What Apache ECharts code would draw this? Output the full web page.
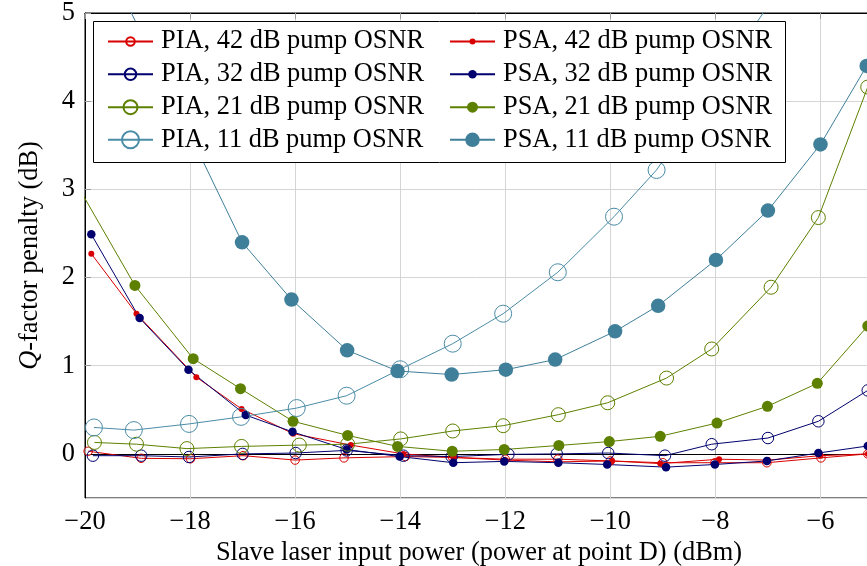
<!DOCTYPE html>
<html>
<head>
<meta charset="utf-8">
<script src="https://cdn.jsdelivr.net/npm/echarts@6/dist/echarts.min.js"></script>
<style>html,body{margin:0;padding:0;background:#fff}#c{width:867px;height:566px}</style>
</head>
<body>
<div id="c"></div>
<script>
// x tick labels (dBm) and y tick labels (dB)
const xTicks = [-20, -18, -16, -14, -12, -10, -8, -6];
const yTicks = [0, 1, 2, 3, 4, 5];
const seriesNames = [
  'PIA, 42 dB pump OSNR', 'PSA, 42 dB pump OSNR',
  'PIA, 32 dB pump OSNR', 'PSA, 32 dB pump OSNR',
  'PIA, 21 dB pump OSNR', 'PSA, 21 dB pump OSNR',
  'PIA, 11 dB pump OSNR', 'PSA, 11 dB pump OSNR'
];
// [slave laser input power (dBm), Q-factor penalty (dB)]
const pia42 = [[-19.94,0.03],[-18.93,-0.05],[-17.99,-0.055],[-16.99,-0.02],[-16.0,-0.07],[-15.07,-0.045],[-13.9,-0.03],[-13.0,-0.04],[-12.0,-0.06],[-11.0,-0.06],[-10.0,-0.08],[-9.0,-0.10],[-8.01,-0.10],[-7.02,-0.10],[-5.99,-0.045],[-5.1,0.0]];
const psa42 = [[-19.88,2.27],[-19.02,1.59],[-17.88,0.87],[-17.02,0.51],[-16.04,0.23],[-14.94,0.10],[-13.94,0.0],[-12.99,-0.04],[-12.0,-0.07],[-11.0,-0.09],[-9.97,-0.08],[-9.05,-0.11],[-7.93,-0.06],[-7.0,-0.07],[-6.0,-0.02],[-5.1,0.0]];
const pia32 = [[-19.85,-0.02],[-18.93,-0.02],[-18.02,-0.035],[-17.0,0.0],[-15.99,0.01],[-15.02,0.04],[-13.94,-0.02],[-13.02,-0.03],[-11.94,-0.005],[-11.02,0.0],[-10.04,0.01],[-8.96,-0.02],[-8.07,0.11],[-7.0,0.18],[-6.04,0.37],[-5.1,0.72]];
const psa32 = [[-19.88,2.49],[-18.96,1.54],[-18.03,0.955],[-16.94,0.44],[-16.05,0.25],[-15.02,0.05],[-14.01,-0.03],[-12.99,-0.10],[-12.02,-0.085],[-10.99,-0.10],[-10.06,-0.12],[-8.94,-0.15],[-8.01,-0.12],[-7.02,-0.08],[-6.04,0.01],[-5.1,0.09]];
const pia21 = [[-19.82,0.13],[-19.02,0.11],[-18.06,0.06],[-17.02,0.085],[-15.92,0.10],[-15.0,0.11],[-13.99,0.17],[-13.0,0.26],[-12.04,0.32],[-10.99,0.445],[-10.05,0.58],[-8.93,0.86],[-8.07,1.19],[-6.94,1.89],[-6.04,2.68],[-5.1,4.16]];
const psa21 = [[-20.15,3.05],[-19.05,1.91],[-17.94,1.08],[-17.04,0.74],[-16.04,0.37],[-15.0,0.21],[-14.05,0.085],[-13.01,0.03],[-12.02,0.05],[-10.98,0.096],[-10.02,0.14],[-9.05,0.20],[-7.97,0.35],[-7.01,0.54],[-6.06,0.80],[-5.1,1.45]];
const pia11 = [[-19.83,0.30],[-19.07,0.27],[-18.02,0.34],[-17.03,0.42],[-15.97,0.52],[-15.02,0.66],[-14.0,0.96],[-13.0,1.25],[-12.04,1.59],[-11.0,2.06],[-9.93,2.69],[-9.12,3.22],[-7.0,5.08]];
const psa11 = [[-20.0,6.09],[-17.01,2.40],[-16.07,1.75],[-15.01,1.175],[-14.05,0.94],[-13.02,0.90],[-11.99,0.955],[-11.05,1.07],[-9.91,1.39],[-9.09,1.68],[-7.99,2.20],[-7.0,2.76],[-6.0,3.51],[-5.12,4.40]];

const FONT = '"Liberation Serif","DejaVu Serif",serif';
const FS = 26.4;
const RED = '#d80000', NAVY = '#00006e', OLIVE = '#5d8000', TEAL = '#3f7f99', TEAL_L = '#4b8ca6';

const specs = [
  {name: seriesNames[0], data: pia42, color: RED,   hollow: true,  size: 8.5},
  {name: seriesNames[1], data: psa42, color: RED,   hollow: false, size: 6},
  {name: seriesNames[2], data: pia32, color: NAVY,  hollow: true,  size: 11.5},
  {name: seriesNames[3], data: psa32, color: NAVY,  hollow: false, size: 8.5},
  {name: seriesNames[4], data: pia21, color: OLIVE, hollow: true,  size: 14},
  {name: seriesNames[5], data: psa21, color: OLIVE, hollow: false, size: 11},
  {name: seriesNames[6], data: pia11, color: TEAL_L, hollow: true, size: 17},
  {name: seriesNames[7], data: psa11, color: TEAL,  hollow: false, size: 14.5}
];

const series = specs.map(s => ({
  type: 'line', name: s.name, data: s.data, clip: true,
  symbol: 'circle', symbolSize: s.size, animation: false,
  lineStyle: {color: s.color, width: 1},
  itemStyle: s.hollow
    ? {color: 'rgba(255,255,255,0)', borderColor: s.color, borderWidth: 1}
    : {color: s.color, borderColor: s.color, borderWidth: 0},
  emphasis: {disabled: true}, z: 2
}));

const rowCenters = [41.5, 74.3, 107.2, 139.8];
const legends = specs.map((s, i) => {
  const col = i % 2, row = Math.floor(i / 2);
  const ih = s.size / 0.8;
  return {
    data: [s.name], selectedMode: false, orient: 'vertical',
    left: col === 0 ? 107 : 449, top: rowCenters[row] - 16,
    padding: 0, itemWidth: 45, itemHeight: ih, z: 5,
    textStyle: {fontFamily: FONT, fontSize: FS, color: '#000', lineHeight: 32, padding: [0,0,0,3]}
  };
});

const fmt = v => (v < 0 ? '\u2212' : '') + Math.abs(v);
const tickStyle = {show: true, inside: true, length: 6, lineStyle: {color: '#9a9a9a', width: 1}};

const chart = echarts.init(document.getElementById('c'), null, {renderer: 'canvas'});
chart.setOption({
  animation: false,
  backgroundColor: '#fff',
  grid: {left: 85, top: 13, right: -6, bottom: 68, containLabel: false, outerBoundsMode: 'none',
    show: true, borderColor: '#000', borderWidth: 1, backgroundColor: 'transparent'},
  xAxis: [{
    type: 'value', min: -20, max: -5, interval: 2,
    axisLine: {show: true, lineStyle: {color: '#000', width: 1}},
    axisTick: tickStyle,
    axisLabel: {fontFamily: FONT, fontSize: FS, color: '#000', margin: 11, showMaxLabel: false,
      formatter: v => xTicks.indexOf(v) >= 0 ? fmt(v) : ''},
    splitLine: {show: true, lineStyle: {color: '#d5d5d5', width: 1}},
    name: 'Slave laser input power (power at point D) (dBm)', nameLocation: 'middle', nameGap: 38,
    nameTextStyle: {fontFamily: FONT, fontSize: FS, color: '#000'}
  }, {
    type: 'value', min: -20, max: -5, interval: 2, position: 'top',
    axisLine: {show: true, lineStyle: {color: '#000', width: 1}},
    axisTick: tickStyle, axisLabel: {show: false}, splitLine: {show: false}
  }],
  yAxis: [{
    type: 'value', min: -0.5, max: 5, splitNumber: 5, minInterval: 1, maxInterval: 1,
    axisLine: {show: true, lineStyle: {color: '#000', width: 1}},
    axisTick: tickStyle,
    axisLabel: {fontFamily: FONT, fontSize: FS, color: '#000', margin: 10, showMinLabel: false,
      formatter: v => yTicks.indexOf(v) >= 0 ? fmt(v) : ''},
    splitLine: {show: true, lineStyle: {color: '#d5d5d5', width: 1}},
    name: '{q|Q}-factor penalty (dB)', nameLocation: 'middle', nameGap: 42,
    nameTextStyle: {fontFamily: FONT, fontSize: FS, color: '#000',
      rich: {q: {fontFamily: FONT, fontSize: FS, fontStyle: 'italic', color: '#000'}}}
  }],
  legend: legends,
  graphic: [{
    type: 'rect', z: 4, silent: true,
    shape: {x: 93.5, y: 21.5, width: 692, height: 141},
    style: {fill: '#fff', stroke: '#000', lineWidth: 1}
  }],
  series: series
});
</script>
</body>
</html>
